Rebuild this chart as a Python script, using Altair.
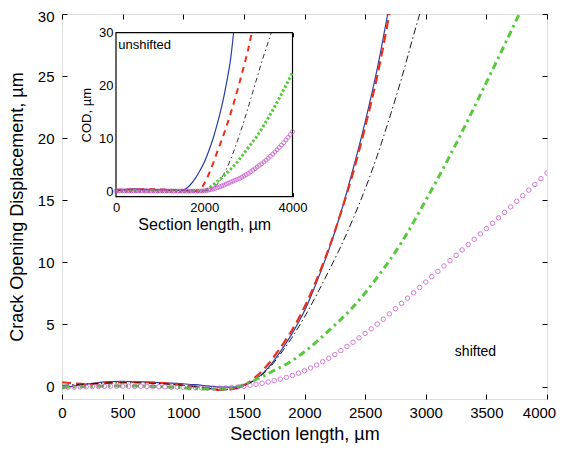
import altair as alt
import pandas as pd

FONT = "Liberation Sans"
BLUE = "#2a3ea8"
RED = "#e8301c"
BLACK = "#000000"
GREEN = "#58c83c"
MAG = "#c444c8"

# ---------------- main plot (shifted) ----------------
x_ticks = [0, 500, 1000, 1500, 2000, 2500, 3000, 3500, 4000]
y_ticks = [0, 5, 10, 15, 20, 25, 30]

blue_x = [0, 100, 200, 300, 400, 500, 600, 700, 800, 900, 1000, 1100, 1200, 1300, 1400,
          1500, 1600, 1700, 1800, 1900, 2000, 2100, 2200, 2300, 2400, 2500, 2600, 2686]
blue_y = [-0.15, 0.05, 0.2, 0.32, 0.4, 0.42, 0.4, 0.36, 0.32, 0.28, 0.22, 0.15, 0.05, -0.05, -0.05,
          0.1, 0.6, 1.5, 2.8, 4.3, 6.1, 8.4, 11.0, 14.0, 17.5, 21.3, 25.6, 30]

red_x = [0, 100, 200, 300, 400, 500, 600, 700, 800, 900, 1000, 1100, 1200, 1300, 1400,
         1500, 1600, 1700, 1800, 1900, 2000, 2100, 2200, 2300, 2400, 2500, 2600, 2700]
red_y = [0.35, 0.25, 0.2, 0.25, 0.3, 0.35, 0.37, 0.35, 0.3, 0.22, 0.12, 0.0, -0.15, -0.27, -0.2,
         0.1, 0.8, 1.8, 3.1, 4.6, 6.4, 8.6, 11.1, 14.0, 17.2, 20.9, 25.0, 30]

black_x = [0, 100, 200, 300, 400, 500, 600, 700, 800, 900, 1000, 1100, 1200, 1300, 1400,
           1500, 1600, 1700, 1800, 1900, 2000, 2100, 2200, 2300, 2400, 2500, 2600, 2700, 2800, 2900, 2950]
black_y = [0.1, 0.15, 0.2, 0.25, 0.3, 0.3, 0.3, 0.28, 0.24, 0.18, 0.1, 0.0, -0.12, -0.25, -0.2,
           0.05, 0.6, 1.4, 2.6, 4.0, 5.6, 7.4, 9.3, 11.3, 13.5, 15.9, 18.6, 21.6, 24.8, 28.3, 30]

green_x = [0, 200, 400, 600, 800, 1000, 1200, 1350, 1450, 1550, 1650, 1750, 1850,
           2000, 2200, 2400, 2600, 2800, 3000, 3200, 3400, 3600, 3771]
green_y = [-0.05, 0.0, 0.05, 0.05, 0.0, -0.1, -0.2, -0.2, 0.0, 0.35, 0.8, 1.3, 1.8,
           2.8, 4.5, 6.4, 8.8, 11.6, 15.0, 18.6, 22.5, 26.5, 30]

mag_x = list(range(0, 4001, 50))
mag_y = [-0.05, -0.05, -0.04, -0.03, -0.02, 0.0, 0.01, 0.02, 0.03, 0.03,
         0.03, 0.03, 0.02, 0.02, 0.01, 0.0, -0.01, -0.02, -0.04, -0.05,
         -0.06, -0.08, -0.09, -0.1, -0.11, -0.12, -0.12, -0.11, -0.08, -0.03,
         0.02, 0.1, 0.18, 0.27, 0.37, 0.48, 0.6, 0.74, 0.9, 1.08,
         1.28, 1.5, 1.74, 2.0, 2.28, 2.58, 2.9, 3.23, 3.57, 3.92,
         4.28, 4.65, 5.03, 5.42, 5.85, 6.27, 6.7, 7.12, 7.55, 7.98,
         8.42, 8.85, 9.28, 9.71, 10.14, 10.57, 11.0, 11.43, 11.86, 12.29,
         12.72, 13.15, 13.59, 14.03, 14.47, 14.92, 15.37, 15.82, 16.28, 16.74,
         17.2]

main_note = ["shifted"]
main_note_x = [3240]
main_note_y = [2.8]

# ---------------- inset (unshifted) ----------------
in_x_ticks = [0, 2000, 4000]
in_y_ticks = [0, 10, 20, 30]

iblue_x = [0, 200, 400, 600, 800, 1000, 1200, 1400, 1500, 1600, 1700, 1800, 1900, 2000,
           2100, 2200, 2300, 2400, 2500, 2600, 2665]
iblue_y = [0.1, 0.35, 0.5, 0.45, 0.35, 0.3, 0.25, 0.2, 0.25, 0.6, 1.4, 2.5, 3.9, 5.5,
           7.6, 10.0, 12.9, 16.2, 20.3, 25.2, 30]

ired_x = [0, 300, 600, 900, 1200, 1500, 1800, 1900, 2000, 2100, 2200, 2300, 2400, 2500,
          2600, 2700, 2800, 2900, 3000, 3075]
ired_y = [0.3, 0.35, 0.4, 0.4, 0.3, 0.2, 0.1, 0.3, 1.5, 3.2, 5.3, 7.6, 9.8, 12.2,
          14.8, 17.6, 20.6, 23.7, 27.0, 30]

iblack_x = [0, 500, 1000, 1500, 2000, 2100, 2200, 2300, 2400, 2500, 2600, 2700, 2800, 2900,
            3000, 3100, 3200, 3300, 3400, 3520]
iblack_y = [0.2, 0.3, 0.25, 0.15, 0.1, 0.2, 0.6, 1.4, 2.6, 4.2, 6.1, 8.3, 10.7, 13.3,
            16.0, 18.8, 21.6, 24.4, 27.0, 30]

igreen_x = [0, 500, 1000, 1500, 1900, 2000, 2100, 2200, 2300, 2400, 2500, 2600, 2700, 2800,
            2900, 3000, 3100, 3200, 3300, 3400, 3500, 3600, 3700, 3800, 3900, 4000]
igreen_y = [0.1, 0.1, 0.05, 0.05, 0.05, 0.2, 0.6, 1.2, 1.9, 2.6, 3.4, 4.2, 5.1, 6.1,
            7.2, 8.3, 9.4, 10.5, 11.8, 13.2, 14.6, 16.1, 17.6, 19.2, 20.8, 22.5]

imag_x = list(range(0, 4001, 50))
imag_y = [0.1, 0.1, 0.12, 0.12, 0.12, 0.12, 0.12, 0.12, 0.1, 0.1,
          0.1, 0.1, 0.08, 0.08, 0.08, 0.08, 0.08, 0.08, 0.08, 0.08,
          0.08, 0.08, 0.08, 0.08, 0.08, 0.08, 0.06, 0.06, 0.06, 0.06,
          0.06, 0.06, 0.06, 0.06, 0.06, 0.06, 0.06, 0.06, 0.07, 0.08,
          0.1, 0.17, 0.25, 0.35, 0.45, 0.57, 0.7, 0.86, 1.02, 1.2,
          1.4, 1.57, 1.75, 1.92, 2.1, 2.27, 2.45, 2.67, 2.9, 3.15,
          3.4, 3.7, 4.0, 4.3, 4.6, 4.92, 5.25, 5.57, 5.9, 6.27,
          6.65, 7.05, 7.45, 7.87, 8.3, 8.75, 9.2, 9.7, 10.2, 10.75,
          11.3]

inset_frame_x = [0]
inset_frame_x2 = [4000]
inset_frame_y = [-1]
inset_frame_y2 = [30]

inset_note = ["unshifted"]
inset_note_x = [52]
inset_note_y = [27.7]

# ---------------- layout ----------------
PAD_L, PAD_T = 54, 6
W, H = 485, 385
PAD_R = 548 - PAD_L - W
PAD_B = 435 - PAD_T - H
IN_L, IN_R = 116 - 8 - PAD_L, 292.5 - 8 - PAD_L
IN_T, IN_B = 32.7 - 8 - PAD_T, 196.7 - 8 - PAD_T
TK = 5
ITK = 4


def df(x, y):
    return pd.DataFrame({"x": x, "y": y})


xs = alt.Scale(domain=[0, 4000], nice=False, zero=False)
ys = alt.Scale(domain=[-1, 30], nice=False, zero=False)


def ax(orient, values, labels=True, title=None, fs=15, tfs=18, lp=7, tp=8, tick=TK, off=None, loff=None):
    kw = dict(orient=orient, values=values, tickSize=tick, offset=-(tick) if off is None else off,
              domain=False, grid=False, labels=labels, labelFlush=False, tickColor="black",
              labelColor="black", labelFont=FONT, labelFontSize=fs, labelPadding=lp, format="d")
    if loff is not None:
        kw["labelOffset"] = loff
    if title:
        kw.update(title=title, titleFont=FONT, titleFontSize=tfs, titleFontWeight="normal",
                  titleColor="black", titlePadding=tp)
    else:
        kw.update(title=None)
    return alt.Axis(**kw)


last_x_label_shift = {"condition": {"test": "datum.value == 4000", "value": -8}, "value": 0}
top_y_label_shift = {"condition": {"test": "datum.value == 30", "value": 2}, "value": 0}

blue = alt.Chart(df(blue_x, blue_y)).mark_line(color=BLUE, strokeWidth=1.2, interpolate="monotone", clip=True).encode(
    x=alt.X("x:Q", scale=xs, axis=ax("bottom", x_ticks, title="Section length, µm", lp=6, tp=5, loff=last_x_label_shift)),
    y=alt.Y("y:Q", scale=ys, axis=ax("left", y_ticks, title="Crack Opening Displacement, µm", lp=8, tp=11, loff=top_y_label_shift)),
)
red = alt.Chart(df(red_x, red_y)).mark_line(color=RED, strokeWidth=2.2, strokeDash=[9, 5], interpolate="monotone", clip=True).encode(
    x=alt.X("x:Q", scale=xs, axis=ax("top", x_ticks, labels=False)),
    y=alt.Y("y:Q", scale=ys, axis=ax("right", y_ticks, labels=False)),
)
black = alt.Chart(df(black_x, black_y)).mark_line(color=BLACK, strokeWidth=0.9, strokeDash=[7, 3, 1.5, 3], interpolate="monotone", clip=True).encode(
    x=alt.X("x:Q", scale=xs, axis=None),
    y=alt.Y("y:Q", scale=ys, axis=None),
)
green = alt.Chart(df(green_x, green_y)).mark_line(color=GREEN, strokeWidth=3, strokeDash=[7, 4, 2.5, 4], interpolate="monotone", clip=True).encode(
    x=alt.X("x:Q", scale=xs, axis=None),
    y=alt.Y("y:Q", scale=ys, axis=None),
)
mag = alt.Chart(df(mag_x, mag_y)).mark_point(shape="circle", filled=False, color=MAG, size=20, strokeWidth=1, clip=True).encode(
    x=alt.X("x:Q", scale=xs, axis=None),
    y=alt.Y("y:Q", scale=ys, axis=None),
)
note = alt.Chart(pd.DataFrame({"x": main_note_x, "y": main_note_y, "t": main_note})).mark_text(
    align="left", baseline="middle", font=FONT, fontSize=14, color="black").encode(
    x=alt.X("x:Q", scale=xs, axis=None),
    y=alt.Y("y:Q", scale=ys, axis=None),
    text="t:N",
)

main = alt.layer(blue, red, black, green, mag, note).resolve_axis(x="independent", y="independent")

ixs = alt.Scale(domain=[0, 4000], range=[IN_L, IN_R], nice=False, zero=False)
iys = alt.Scale(domain=[-1, 30], range=[IN_B, IN_T], nice=False, zero=False)

frame = alt.Chart(pd.DataFrame({"x": inset_frame_x, "x2": inset_frame_x2, "y": inset_frame_y, "y2": inset_frame_y2})).mark_rect(
    fill="white", stroke="black", strokeWidth=1.2).encode(
    x=alt.X("x:Q", scale=ixs, axis=ax("bottom", in_x_ticks, title="Section length, µm", fs=13, tfs=16,
                                       lp=5, tp=2, tick=ITK, off=-(H - IN_B + ITK))),
    x2="x2:Q",
    y=alt.Y("y:Q", scale=iys, axis=ax("left", in_y_ticks, title="COD, µm", fs=13, tfs=13,
                                       lp=3, tp=5, tick=ITK, off=-(IN_L + ITK))),
    y2="y2:Q",
)
iblue = alt.Chart(df(iblue_x, iblue_y)).mark_line(color=BLUE, strokeWidth=1.2, interpolate="monotone").encode(
    x=alt.X("x:Q", scale=ixs, axis=ax("top", in_x_ticks, labels=False, tick=ITK, off=-(IN_T + ITK))),
    y=alt.Y("y:Q", scale=iys, axis=ax("right", in_y_ticks, labels=False, tick=ITK, off=-(W - IN_R + ITK))),
)
ired = alt.Chart(df(ired_x, ired_y)).mark_line(color=RED, strokeWidth=2, strokeDash=[6, 5], interpolate="monotone").encode(
    x=alt.X("x:Q", scale=ixs, axis=None),
    y=alt.Y("y:Q", scale=iys, axis=None),
)
iblack = alt.Chart(df(iblack_x, iblack_y)).mark_line(color=BLACK, strokeWidth=0.8, strokeDash=[5, 3, 1.5, 3], interpolate="monotone").encode(
    x=alt.X("x:Q", scale=ixs, axis=None),
    y=alt.Y("y:Q", scale=iys, axis=None),
)
igreen = alt.Chart(df(igreen_x, igreen_y)).mark_line(color=GREEN, strokeWidth=3, strokeDash=[2.5, 2], interpolate="monotone").encode(
    x=alt.X("x:Q", scale=ixs, axis=None),
    y=alt.Y("y:Q", scale=iys, axis=None),
)
imag = alt.Chart(df(imag_x, imag_y)).mark_point(shape="circle", filled=False, color=MAG, size=16, strokeWidth=1).encode(
    x=alt.X("x:Q", scale=ixs, axis=None),
    y=alt.Y("y:Q", scale=iys, axis=None),
)
inote = alt.Chart(pd.DataFrame({"x": inset_note_x, "y": inset_note_y, "t": inset_note})).mark_text(
    align="left", baseline="middle", font=FONT, fontSize=13, color="black").encode(
    x=alt.X("x:Q", scale=ixs, axis=None),
    y=alt.Y("y:Q", scale=iys, axis=None),
    text="t:N",
)

inset = alt.layer(frame, iblue, ired, iblack, igreen, imag, inote).resolve_axis(x="independent", y="independent")

chart = alt.layer(main, inset).resolve_scale(x="independent", y="independent").resolve_axis(
    x="independent", y="independent"
).properties(
    width=W, height=H,
    autosize=alt.AutoSizeParams(type="none"),
    padding={"left": PAD_L, "top": PAD_T, "right": PAD_R, "bottom": PAD_B},
).configure_view(stroke="black", strokeWidth=1.2).configure(background="white")

chart.save("out.html", embed_options={"renderer": "svg", "actions": False})
